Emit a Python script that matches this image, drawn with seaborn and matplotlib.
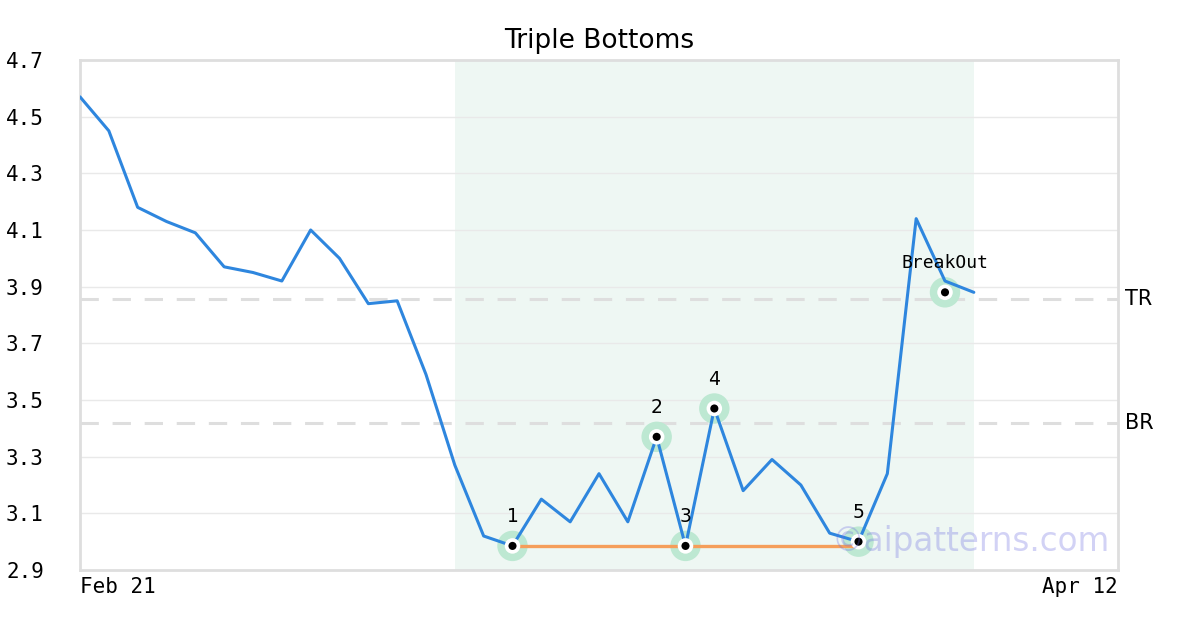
import numpy as np
import pandas as pd
import matplotlib
matplotlib.use("Agg")
import matplotlib.pyplot as plt
import seaborn as sns

# ---- data ----
close = [4.57, 4.45, 4.18, 4.13, 4.09, 3.97, 3.95, 3.92, 4.10, 4.00,
         3.84, 3.85, 3.59, 3.27, 3.02, 2.985, 3.15, 3.07, 3.24, 3.07,
         3.37, 2.985, 3.47, 3.18, 3.29, 3.20, 3.03, 3.00, 3.24, 4.14,
         3.92, 3.88]
point_idx = [15, 20, 21, 22, 27]
point_labels = ["1", "2", "3", "4", "5"]
breakout_idx = 30
breakout_val = 3.88
support_val = 2.985
tr_level = 3.856
br_level = 3.42
zone_start, zone_end = 13, 31
x_max = 36
tick_labels = ["Feb 21", "Apr 12"]
y_ticks = [2.9, 3.1, 3.3, 3.5, 3.7, 3.9, 4.1, 4.3, 4.5, 4.7]

df = pd.DataFrame({"i": np.arange(len(close)), "close": close})
pts = pd.DataFrame({"i": point_idx, "v": [close[k] for k in point_idx]})
pts_all = pd.concat([pts, pd.DataFrame({"i": [breakout_idx], "v": [breakout_val]})])

sns.set_style("white")
plt.rcParams.update({"text.color": "black", "xtick.color": "black",
                     "ytick.color": "black", "axes.titlecolor": "black"})
fig = plt.figure(figsize=(12, 6.3), dpi=100)
ax = fig.add_axes([80/1200, 1-570/630, (1118-80)/1200, (570-60)/630])

blue = "#2e86de"
ax.axvspan(zone_start, zone_end, color="#eef7f3", zorder=0, lw=0)
for yv in y_ticks:
    ax.axhline(yv, color="#e9e9e9", lw=1, zorder=0.5)
for lvl in (tr_level, br_level):
    ax.axhline(lvl, color="#dedede", lw=2.2, ls=(0, (6, 4.5)), zorder=1)

# halos
sns.scatterplot(data=pts_all, x="i", y="v", s=480, color="#bde8d2", edgecolor="none",
                ax=ax, zorder=2, legend=False)
# support line
ax.plot([point_idx[0], point_idx[-1]], [support_val, support_val], color="#f59e5a",
        lw=2.4, zorder=2.5, solid_capstyle="butt")
sns.lineplot(data=df, x="i", y="close", color=blue, lw=2.2, ax=ax, zorder=3)
sns.scatterplot(data=pts_all, x="i", y="v", s=125, color="white", edgecolor="none",
                ax=ax, zorder=4, legend=False)
sns.scatterplot(data=pts_all, x="i", y="v", s=34, color="black", edgecolor="none",
                ax=ax, zorder=5, legend=False)

for k, lab in zip(point_idx, point_labels):
    ax.annotate(lab, (k, close[k]), xytext=(0, 21), textcoords="offset points",
                ha="center", va="center", fontsize=13.5, color="black", zorder=6)
ax.annotate("BreakOut", (breakout_idx, breakout_val), xytext=(0, 21),
            textcoords="offset points", ha="center", va="center", fontsize=13,
            family="DejaVu Sans Mono", color="black", zorder=6)

for lvl, lab in ((tr_level, "TR"), (br_level, "BR")):
    ax.text(1.0 + 7/1038, lvl, lab, transform=ax.get_yaxis_transform(),
            va="center", ha="left", fontsize=15, color="black")

ax.text(0.992, 0.055, "\u00a9aipatterns.com", transform=ax.transAxes, ha="right",
        va="center", fontsize=23.5, color="#6a6ae0", alpha=0.3, zorder=7)

ax.set_xlim(0, x_max)
ax.set_ylim(2.9, 4.7)
ax.set_yticks(y_ticks)
ax.set_yticklabels([f"{v:.1f}" for v in y_ticks], family="DejaVu Sans Mono", fontsize=15)
ax.set_xticks([0, x_max])
xl = ax.set_xticklabels(tick_labels, family="DejaVu Sans Mono", fontsize=15)
xl[0].set_ha("left")
xl[1].set_ha("right")
ax.tick_params(axis="y", length=0, pad=26, colors="black")
ax.tick_params(axis="x", length=0, pad=5, colors="black")
ax.set_xlabel("")
ax.set_ylabel("")
for sp in ax.spines.values():
    sp.set_color("#dedede")
    sp.set_linewidth(2)
ax.set_title("Triple Bottoms", fontsize=19, pad=9, color="black")

fig.savefig("out.png", dpi=100)
